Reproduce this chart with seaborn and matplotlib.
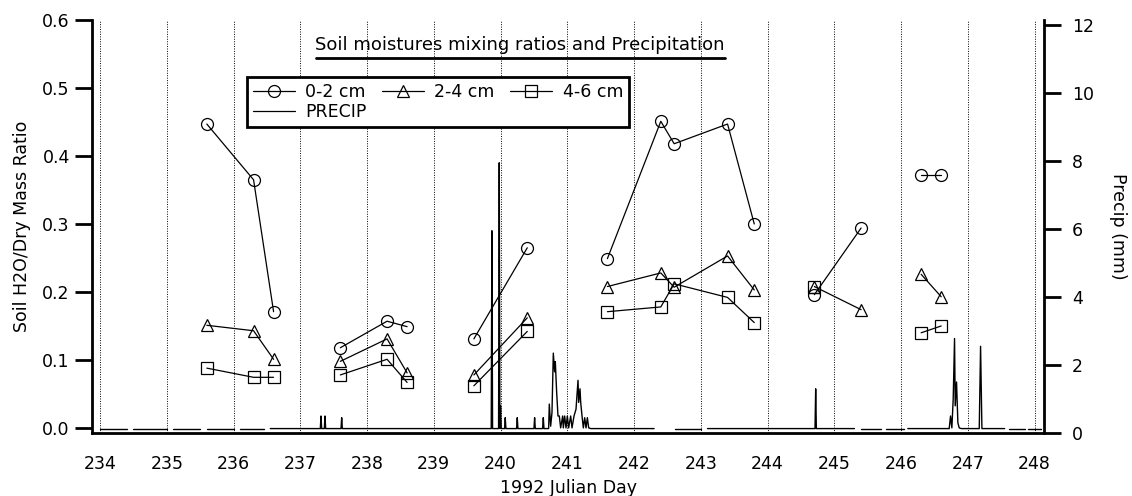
import numpy as np
import pandas as pd
import matplotlib
matplotlib.use("Agg")
import matplotlib.pyplot as plt
from matplotlib.lines import Line2D
import seaborn as sns

# ---------------- data ----------------
# sampling days (groups separated into sessions)
soil_day = [235.6, 236.3, 236.6,
            237.6, 238.3, 238.6,
            239.6, 240.4,
            241.6, 242.4, 242.6, 243.4, 243.8,
            244.7, 245.4,
            246.3, 246.6]
soil_session = [1, 1, 1, 2, 2, 2, 3, 3, 4, 4, 4, 4, 4, 5, 5, 6, 6]

cm_0_2 = [0.447, 0.365, 0.171,
          0.118, 0.157, 0.149,
          0.131, 0.265,
          0.249, 0.451, 0.418, 0.447, 0.300,
          0.196, 0.294,
          0.372, 0.372]
cm_2_4 = [0.151, 0.143, 0.101,
          0.098, 0.131, 0.081,
          0.078, 0.162,
          0.208, 0.228, 0.207, 0.253, 0.203,
          0.208, 0.174,
          0.226, 0.193]
cm_4_6 = [0.088, 0.0745, 0.0745,
          0.078, 0.101, 0.067,
          0.062, 0.142,
          0.171, 0.178, 0.212, 0.192, 0.155,
          0.207, np.nan,
          0.140, 0.150]

nan = np.nan
precip_day = [234.0, 234.4, nan, 234.5, 235.0, nan, 235.1, 235.5, nan, 235.6, 236.0, nan,
              236.1, 236.45, nan,
              236.55, 237.30, 237.31, 237.32, 237.36, 237.37, 237.38, 237.61, 237.62, 237.63,
              239.86, 239.87, 239.88, 239.97, 239.98, 239.99, 240.00, 240.01,
              240.06, 240.07, 240.08, 240.24, 240.25, 240.26, 240.50, 240.51, 240.52,
              240.63, 240.64, 240.65, 240.72, 240.73, 240.75, 240.77, 240.79, 240.81, 240.82,
              240.84, 240.86, 240.88, 240.90, 240.93, 240.94, 240.96, 240.98, 241.00, 241.02,
              241.05, 241.07, 241.10, 241.13, 241.16, 241.17, 241.19, 241.20, 241.22, 241.24,
              241.26, 241.28, 241.30, 241.32, 241.35, 242.30, nan,
              242.62, 243.0, nan,
              243.1, 244.71, 244.72, 244.73, 245.30, nan,
              245.40, 245.70, nan, 245.78, 246.05, nan, 246.1, 246.72,
              246.74, 246.76, 246.78, 246.80, 246.81, 246.83, 246.85, 246.87, 246.90,
              247.17, 247.19, 247.21, 247.55, nan, 247.62, 247.85, nan, 247.9, 248.1]
b = 0.13
precip_mm = [b, b, nan, b, b, nan, b, b, nan, b, b, nan,
             b, b, nan,
             b, b, 0.5, b, b, 0.5, b, b, 0.45, b,
             b, 5.95, b, b, 7.95, b, 0.8, b,
             b, 0.45, b, b, 0.45, b, b, 0.45, b,
             b, 0.45, b, b, 0.85, 0.2, 0.6, 2.35, 1.8, 2.1,
             1.2, 0.5, 0.5, 0.15, 0.5, 0.15, 0.5, 0.15, 0.5, 0.15,
             0.5, 0.15, 0.5, 0.7, 1.55, 0.9, 1.3, 0.9, 0.5, 0.15,
             0.45, 0.15, 0.45, 0.15, b, b, nan,
             b, b, nan,
             b, b, 1.3, b, b, nan,
             b, b, nan, b, b, nan, b, b,
             0.5, 0.15, 1.0, 2.78, 0.8, 1.5, 0.3, 0.15, b,
             b, 2.55, b, b, nan, b, b, nan, b, b]

x_ticks = list(range(234, 249))
y_ticks = [0.0, 0.1, 0.2, 0.3, 0.4, 0.5, 0.6]
y2_ticks = [0, 2, 4, 6, 8, 10, 12]

# ---------------- figure ----------------
sns.set_theme(style="white")
plt.rcParams['font.family'] = ['DejaVu Sans']
plt.rcParams.update({"text.color": "black", "axes.labelcolor": "black",
                     "xtick.color": "black", "ytick.color": "black",
                     "xtick.labelcolor": "black", "ytick.labelcolor": "black"})
FS = 12.5

W, H = 1132, 496
fig = plt.figure(figsize=(W / 100, H / 100), dpi=100)
ax = fig.add_axes([92 / W, 1 - 433 / H, (1044 - 92) / W, (433 - 20) / H])

soil = pd.DataFrame({"day": soil_day, "session": soil_session,
                     "c02": cm_0_2, "c24": cm_2_4, "c46": cm_4_6})

styles = [("c02", "o", 8.6), ("c24", "^", 8.6), ("c46", "s", 8.0)]
for col, mk, ms in styles:
    d = soil[["day", "session", col]].dropna()
    sns.lineplot(data=d, x="day", y=col, units="session", estimator=None,
                 ax=ax, color="black", lw=0.9, marker=mk, markersize=ms,
                 markerfacecolor="none", markeredgecolor="black",
                 markeredgewidth=0.9, legend=False, sort=False)

ax.set_xlim(233.88, 248.14)
ax.set_ylim(-0.0074, 0.6)
ax.set_xticks(x_ticks)
ax.set_xticklabels([str(t) for t in x_ticks])
ax.set_yticks(y_ticks)
ax.set_yticklabels([f"{t:.1f}" for t in y_ticks])
ax.grid(axis="x", linestyle=(0, (1, 1.5)), color="black", lw=0.7)
ax.grid(axis="y", visible=False)
ax.set_xlabel("1992 Julian Day", fontsize=FS, labelpad=4, color="black")
ax.set_ylabel("Soil H2O/Dry Mass Ratio", fontsize=FS, labelpad=8, color="black")
ax.tick_params(axis="both", direction="out", length=12, width=2,
               labelsize=FS, color="black", labelcolor="black", pad=4)
for side in ["left", "bottom"]:
    ax.spines[side].set_linewidth(2)
    ax.spines[side].set_color("black")
ax.spines["top"].set_visible(False)
ax.spines["right"].set_visible(False)
ax.patch.set_alpha(0)

# precipitation on right axis
ax2 = ax.twinx()
pr = pd.DataFrame({"day": precip_day, "mm": precip_mm})
pr["seg"] = pr["day"].isna().cumsum()
pr = pr.dropna()
sns.lineplot(data=pr, x="day", y="mm", units="seg", estimator=None, ax=ax2,
             color="black", lw=1.0, legend=False, sort=False)
ax2.set_ylim(0, 12.15)
ax2.set_xlim(233.88, 248.14)
ax2.set_yticks(y2_ticks)
ax2.set_yticklabels([str(t) for t in y2_ticks])
ax2.set_ylabel("Precip (mm)", fontsize=FS, rotation=270, labelpad=24, color="black")
ax2.tick_params(axis="y", direction="out", length=12, width=2,
                labelsize=FS, color="black", labelcolor="black", pad=8)
ax2.spines["right"].set_linewidth(2)
ax2.spines["right"].set_color("black")
for side in ["top", "left", "bottom"]:
    ax2.spines[side].set_visible(False)
ax2.grid(False)
ax.set_zorder(ax2.get_zorder() + 1)

# legend
handles = [
    Line2D([], [], color="black", lw=0.9, marker="o", markersize=8.6,
           markerfacecolor="none", markeredgecolor="black", markeredgewidth=0.9),
    Line2D([], [], color="black", lw=0.9),
    Line2D([], [], color="black", lw=0.9, marker="^", markersize=8.6,
           markerfacecolor="none", markeredgecolor="black", markeredgewidth=0.9),
    Line2D([], [], color="black", lw=0.9, marker="s", markersize=8.0,
           markerfacecolor="none", markeredgecolor="black", markeredgewidth=0.9),
]
labels = ["0-2 cm", "PRECIP", "2-4 cm", "4-6 cm"]
leg = ax.legend(handles, labels, ncol=3, loc="upper left",
                bbox_to_anchor=(0.163, 0.862), fontsize=FS, frameon=True,
                fancybox=False, framealpha=1, edgecolor="black",
                handlelength=2.4, handletextpad=0.6, columnspacing=0.9,
                labelspacing=0.1, borderpad=0.35, borderaxespad=0)
leg.get_frame().set_linewidth(2)
for t in leg.get_texts():
    t.set_color("black")

# title with underline
fig.text(520 / W, 1 - 45 / H, "Soil moistures mixing ratios and Precipitation",
         ha="center", va="center", fontsize=13, color="black")
fig.add_artist(Line2D([316 / W, 725 / W], [1 - 58 / H, 1 - 58 / H],
                      color="black", lw=2, transform=fig.transFigure))

fig.savefig("out.png", dpi=100)
